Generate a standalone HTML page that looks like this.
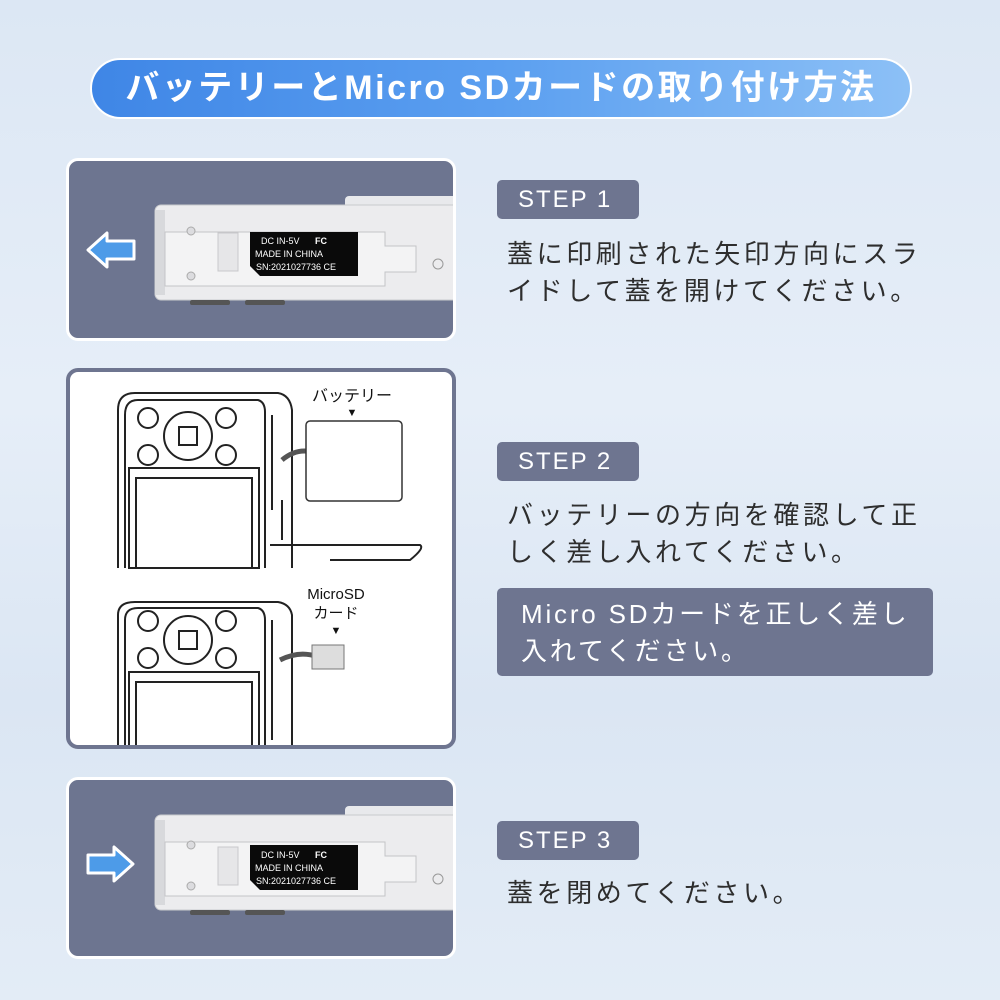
<!DOCTYPE html>
<html><head><meta charset="utf-8"><style>
*{margin:0;padding:0;box-sizing:border-box}
body{width:1000px;height:1000px;overflow:hidden;position:relative;background:linear-gradient(180deg,#dce7f4 0%,#e6eef8 40%,#dbe6f3 70%,#e3ecf6 100%);font-family:"Liberation Sans","Noto Sans CJK JP",sans-serif}
.abs{position:absolute}
.title{left:90px;top:58px;width:822px;height:61px;border-radius:31px;border:2px solid #fff;background:linear-gradient(90deg,#3f86e6 0%,#5b9ff0 50%,#8cc0f6 100%);color:#fff;font-size:34px;font-weight:bold;text-align:center;line-height:56px;letter-spacing:2.5px}
.panel{left:66px;width:390px;border-radius:12px;overflow:hidden}
.dark{background:#6d7590;border:3px solid #fff}
.step{left:497px;width:142px;height:39px;background:#6e7590;border-radius:5px;color:#fff;font-size:24px;line-height:39px;padding-left:21px;letter-spacing:2px}
.txt{left:507px;font-size:26px;color:#2e2e2e;letter-spacing:3.6px;line-height:37px;white-space:nowrap}
</style></head><body>
<div class="abs title">バッテリーとMicro SDカードの取り付け方法</div>

<!-- panel 1 -->
<div class="abs panel dark" style="top:158px;height:183px">
<svg width="390" height="183" viewBox="66 158 390 183" style="display:block;margin:-3px">
<polygon points="88,250 107,233 107,241 134,241 134,259 107,259 107,267" fill="#4d9be8" stroke="#fff" stroke-width="3" stroke-linejoin="round"/>
<rect x="345" y="196" width="120" height="22" rx="4" fill="#e8e9ec"/>
<rect x="155" y="205" width="310" height="95" rx="6" fill="#ececee" stroke="#c9cacd"/>
<rect x="155" y="210" width="10" height="85" fill="#d8d9dc"/>
<path d="M165,232 H385 V246 H416 V272 H385 V286 H165 Z" fill="#f3f3f4" stroke="#c3c4c7"/>
<circle cx="191" cy="231" r="4" fill="#dcdcdf" stroke="#aaa"/><circle cx="191" cy="276" r="4" fill="#dcdcdf" stroke="#aaa"/>
<rect x="218" y="233" width="20" height="38" fill="#e6e6e8" stroke="#c8c8cb"/>
<path d="M250,232 H358 V276 H260 L250,266 Z" fill="#0a0a0a"/>
<text x="261" y="244" font-size="9" fill="#fff" font-family="Liberation Sans">DC IN-5V</text>
<text x="315" y="244" font-size="9" font-weight="bold" fill="#fff" font-family="Liberation Sans">FC</text>
<text x="255" y="257" font-size="9" fill="#fff" font-family="Liberation Sans">MADE IN CHINA</text>
<text x="256" y="270" font-size="9" fill="#fff" font-family="Liberation Sans">SN:2021027736 CE</text>
<circle cx="438" cy="264" r="5" fill="none" stroke="#999"/>
<rect x="190" y="300" width="40" height="5" rx="2" fill="#555"/><rect x="245" y="300" width="40" height="5" rx="2" fill="#555"/>
</svg></div>

<!-- panel 2 -->
<div class="abs panel" style="top:368px;height:381px;background:#fff;border:4px solid #6e7590">
<svg width="390" height="381" viewBox="66 368 390 381" style="display:block;margin:-4px">
<g fill="none" stroke="#222" stroke-width="2">
<path d="M118,568 V410 Q118,393 135,393 H278 Q290,395 292,410 V568"/>
<path d="M125,568 V415 Q125,400 138,400 H258 Q265,402 265,412 V568"/>
<circle cx="148" cy="418" r="10"/><circle cx="226" cy="418" r="10"/><circle cx="148" cy="455" r="10"/><circle cx="226" cy="455" r="10"/>
<circle cx="188" cy="436" r="24"/><rect x="179" y="427" width="18" height="18"/>
<rect x="129" y="468" width="130" height="100"/><rect x="136" y="478" width="116" height="90"/>
<path d="M272,415 V510 M282,500 V540 M270,545 H420 Q425,548 410,560 H330"/>
</g>
<path d="M282,460 Q300,445 320,455" fill="none" stroke="#555" stroke-width="5"/>
<rect x="306" y="421" width="96" height="80" rx="4" fill="#fff" stroke="#333" stroke-width="1.5"/>
<text x="312" y="401" font-size="16" fill="#111" font-family="Liberation Sans,Noto Sans CJK JP,sans-serif">バッテリー</text>
<text x="352" y="416" font-size="11" fill="#111" text-anchor="middle">▼</text>
<g fill="none" stroke="#222" stroke-width="2">
<path d="M118,746 V615 Q118,602 135,602 H278 Q290,604 292,615 V746"/>
<path d="M125,746 V620 Q125,608 138,608 H258 Q265,610 265,620 V746"/>
<circle cx="148" cy="621" r="10"/><circle cx="226" cy="621" r="10"/><circle cx="148" cy="658" r="10"/><circle cx="226" cy="658" r="10"/>
<circle cx="188" cy="640" r="24"/><rect x="179" y="631" width="18" height="18"/>
<rect x="129" y="672" width="130" height="80"/><rect x="136" y="682" width="116" height="70"/>
<path d="M272,620 V740"/>
</g>
<path d="M280,660 Q300,650 318,657" fill="none" stroke="#555" stroke-width="5"/>
<rect x="312" y="645" width="32" height="24" fill="#ddd" stroke="#777"/>
<text x="336" y="599" font-size="15" fill="#111" text-anchor="middle" font-family="Liberation Sans,Noto Sans CJK JP,sans-serif">MicroSD</text>
<text x="336" y="618" font-size="15" fill="#111" text-anchor="middle" font-family="Liberation Sans,Noto Sans CJK JP,sans-serif">カード</text>
<text x="336" y="634" font-size="11" fill="#111" text-anchor="middle">▼</text>
</svg></div>

<!-- panel 3 -->
<div class="abs panel dark" style="top:777px;height:182px">
<svg width="390" height="182" viewBox="66 777 390 182" style="display:block;margin:-3px">
<polygon points="133,864 114,847 114,855 88,855 88,873 114,873 114,881" fill="#4d9be8" stroke="#fff" stroke-width="3" stroke-linejoin="round"/>
<rect x="345" y="806" width="120" height="22" rx="4" fill="#e8e9ec"/>
<rect x="155" y="815" width="310" height="95" rx="6" fill="#ececee" stroke="#c9cacd"/>
<rect x="155" y="820" width="10" height="85" fill="#d8d9dc"/>
<path d="M165,842 H385 V856 H416 V882 H385 V896 H165 Z" fill="#f3f3f4" stroke="#c3c4c7"/>
<circle cx="191" cy="845" r="4" fill="#dcdcdf" stroke="#aaa"/><circle cx="191" cy="886" r="4" fill="#dcdcdf" stroke="#aaa"/>
<rect x="218" y="847" width="20" height="38" fill="#e6e6e8" stroke="#c8c8cb"/>
<path d="M250,845 H358 V890 H260 L250,880 Z" fill="#0a0a0a"/>
<text x="261" y="858" font-size="9" fill="#fff" font-family="Liberation Sans">DC IN-5V</text>
<text x="315" y="858" font-size="9" font-weight="bold" fill="#fff" font-family="Liberation Sans">FC</text>
<text x="255" y="871" font-size="9" fill="#fff" font-family="Liberation Sans">MADE IN CHINA</text>
<text x="256" y="884" font-size="9" fill="#fff" font-family="Liberation Sans">SN:2021027736 CE</text>
<circle cx="438" cy="879" r="5" fill="none" stroke="#999"/>
<rect x="190" y="910" width="40" height="5" rx="2" fill="#555"/><rect x="245" y="910" width="40" height="5" rx="2" fill="#555"/>
</svg></div>

<div class="abs step" style="top:180px">STEP 1</div>
<div class="abs txt" style="top:236px">蓋に印刷された矢印方向にスラ<br>イドして蓋を開けてください。</div>

<div class="abs step" style="top:442px">STEP 2</div>
<div class="abs txt" style="top:497px">バッテリーの方向を確認して正<br>しく差し入れてください。</div>
<div class="abs" style="left:497px;top:588px;width:436px;height:88px;background:#6e7590;border-radius:5px;color:#fff;font-size:26px;line-height:37px;padding:8px 0 0 24px;letter-spacing:2.8px">Micro SDカードを正しく差し<br>入れてください。</div>

<div class="abs step" style="top:821px">STEP 3</div>
<div class="abs txt" style="top:875px">蓋を閉めてください。</div>
</body></html>
